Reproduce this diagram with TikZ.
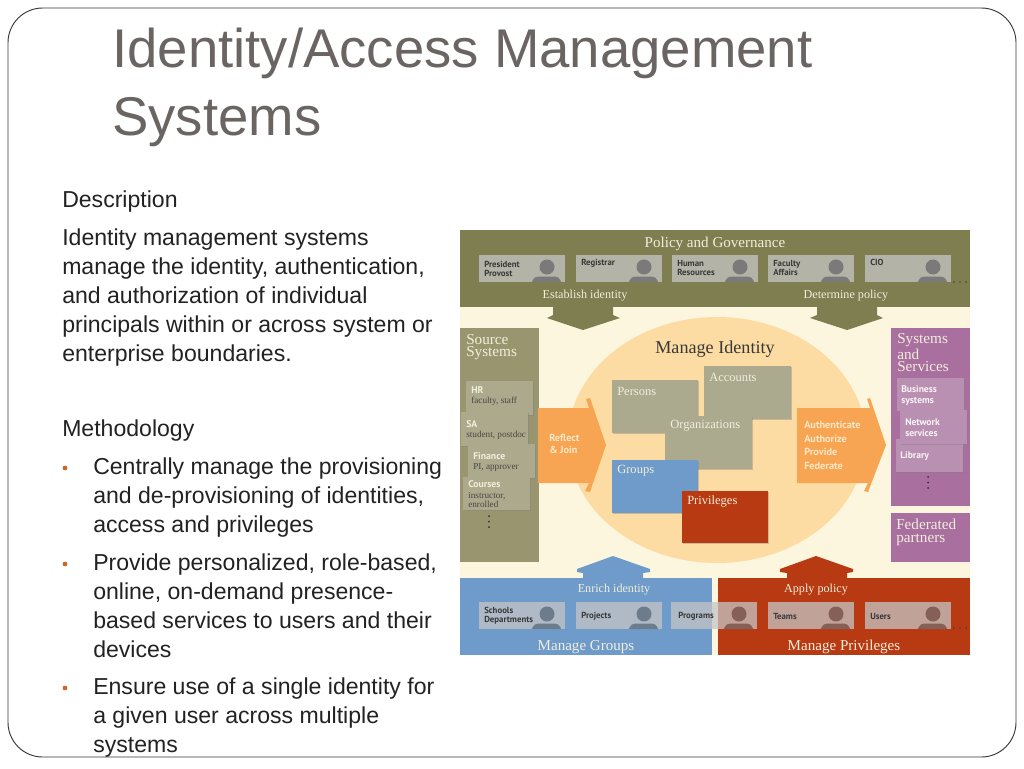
\documentclass[tikz,border=0pt]{standalone}
\usepackage{fontspec}
\setmainfont{Liberation Sans}
\newfontfamily\serifface{Liberation Serif}
\newfontfamily\labface{PT Sans}
\usetikzlibrary{shadows,shapes.geometric}
\definecolor{cream}{HTML}{FDF6DF}
\definecolor{olive}{HTML}{7F7E50}
\definecolor{srcgreen}{HTML}{99966F}
\definecolor{srccard}{HTML}{ADA98C}
\definecolor{ellip}{HTML}{FCDCA2}
\definecolor{orng}{HTML}{F7A552}
\definecolor{blu}{HTML}{6E9BC9}
\definecolor{rd}{HTML}{B73A13}
\definecolor{purp}{HTML}{A86F9F}
\definecolor{purpcard}{HTML}{BA90B2}
\definecolor{idgray}{HTML}{ABA98E}
\definecolor{titlegray}{HTML}{6A6462}
\definecolor{bodyink}{HTML}{222222}
\definecolor{bullet}{HTML}{C9682A}
\definecolor{paleink}{HTML}{F1EEDC}
\definecolor{roleg}{HTML}{C5C5C5}
\definecolor{bluehead}{HTML}{6D7C8C}
\definecolor{redhead}{HTML}{846056}
\definecolor{arrowink}{HTML}{FDE7C8}
\tikzset{
  region/.style={inner sep=0pt,outer sep=0pt,draw=none},
  softcard/.style={region,drop shadow={shadow xshift=1pt,shadow yshift=-1pt,opacity=.4}},
  rolecard/.style={region,fill=roleg,fill opacity=.75},
  titletext/.style={anchor=west,inner sep=0pt,text=titlegray,font=\fontsize{40.9}{50}\selectfont},
  bodytext/.style={anchor=north west,inner sep=0pt,align=left,text=bodyink,font=\fontsize{17.3}{21.75}\selectfont},
  headtext/.style={inner sep=0pt,text=paleink,font=\serifface\fontsize{11.3}{12}\selectfont},
  subtext/.style={inner sep=0pt,text=paleink,font=\serifface\fontsize{9.1}{11}\selectfont},
  sidetext/.style={anchor=west,inner sep=0pt,align=left,text=paleink,font=\serifface\fontsize{11.4}{9.6}\selectfont},
  idtext/.style={anchor=west,inner sep=0pt,text=paleink,font=\serifface\fontsize{9.4}{10}\selectfont},
  rolelabel/.style={anchor=west,inner sep=0pt,align=left,text=black!78,font=\labface\bfseries\fontsize{6.6}{6.7}\selectfont},
  purplabel/.style={anchor=west,inner sep=0pt,align=left,text=white!92!purp,font=\labface\bfseries\fontsize{7.2}{8.2}\selectfont},
  cardhead/.style={anchor=west,inner sep=0pt,text=paleink,font=\labface\bfseries\fontsize{7.3}{7.5}\selectfont},
  cardsub/.style={anchor=west,inner sep=0pt,align=left,text=black!72,font=\serifface\fontsize{6.9}{7}\selectfont},
  arrowlabel/.style={anchor=west,inner sep=0pt,align=left,text=arrowink,font=\labface\bfseries\fontsize{7.7}{10.1}\selectfont},
}
\newcommand{\rbox}[6]{\node[#2,minimum width={(#5-#3)*0.75pt},minimum height={(#6-#4)*0.75pt}] (#1) at ({(#3+#5)/2},{(#4+#6)/2}) {};}
\newcommand{\person}[4]{% name, card left, card bottom, colour
  \fill[#4] ({#2+68},{#3-15}) circle (7.5);
  \fill[#4] ({#2+53},#3) [rounded corners=3pt] -- ({#2+55},{#3-5.5}) -- ({#2+80},{#3-5.5}) [sharp corners] -- ({#2+82},#3) -- cycle;
  \coordinate (#1) at ({#2+68},#3);}
\newcommand{\dotcol}[3]{\fill[#3] (#1,#2) circle (1); \fill[#3] (#1,{#2+5.5}) circle (1); \fill[#3] (#1,{#2+11}) circle (1);}
\begin{document}
\begin{tikzpicture}[x=0.75pt,y=-0.75pt]
\useasboundingbox (0,0) rectangle (1024,768);
\fill[white] (0,0) rectangle (1024,768);
\draw[black!78,line width=.7pt,rounded corners=26pt] (8,8) rectangle (1016,757);

% slide text
\node[titletext] (title1) at (112,53) {Identity/Access Management};
\node[titletext] (title2) at (112,122) {Systems};
\node[bodytext] (desc) at (62,191) {Description};
\node[bodytext] (para) at (62,229) {Identity management systems\\manage the identity, authentication,\\and authorization of individual\\principals within or across system or\\enterprise boundaries.};
\node[bodytext] (meth) at (62,420) {Methodology};
\node[bodytext] (b1) at (93,458) {Centrally manage the provisioning\\and de-provisioning of identities,\\access and privileges};
\node[bodytext] (b2) at (93,554) {Provide personalized, role-based,\\online, on-demand presence-\\based services to users and their\\devices};
\node[bodytext] (b3) at (93,678) {Ensure use of a single identity for\\a given user across multiple\\systems};
\fill[bullet] (65,468) circle (2.4);
\fill[bullet] (65,564) circle (2.4);
\fill[bullet] (65,688) circle (2.4);

% diagram background
\rbox{bg}{region,fill=cream}{460}{230}{970}{655}
\node[region,fill=ellip,ellipse,minimum width={298*0.75pt},minimum height={246*0.75pt}] (core) at (717,440) {};

% top band
\rbox{policy}{region,fill=olive}{460}{230}{970}{307}
\fill[olive] (553,306) -- (553,315) -- (547,318) -- (583,330) -- (620,318) -- (613,315) -- (613,306) -- cycle;
\fill[olive] (817,306) -- (817,315) -- (810,318) -- (847,330) -- (883,318) -- (877,315) -- (877,306) -- cycle;
\node[headtext] (policyt) at (715,244) {Policy and Governance};
\node[subtext] (estab) at (585,296) {Establish identity};
\node[subtext] (determ) at (846,296) {Determine policy};
\rbox{c1}{rolecard}{479}{255}{565}{282}
\rbox{c2}{rolecard}{576}{255}{662}{282}
\rbox{c3}{rolecard}{672}{255}{758}{282}
\rbox{c4}{rolecard}{768}{255}{854}{282}
\rbox{c5}{rolecard}{865}{255}{951}{282}
\person{p1}{479}{282}{black!52}
\person{p2}{576}{282}{black!52}
\person{p3}{672}{282}{black!52}
\person{p4}{768}{282}{black!52}
\person{p5}{865}{282}{black!52}
\node[rolelabel] (l1) at (484,268.5) {President\\Provost};
\node[rolelabel] (l2) at (581,263) {Registrar};
\node[rolelabel] (l3) at (677,268) {Human\\Resources};
\node[rolelabel] (l4) at (773,268) {Faculty\\Affairs};
\node[rolelabel] (l5) at (870,262) {CIO};
\fill[black!75] (954,282) circle (.9) (960,282) circle (.9) (966,282) circle (.9);

% source systems
\rbox{src}{region,fill=srcgreen}{460}{328}{539}{562}
\node[sidetext] (srct) at (466,347) {Source\\Systems};
\rbox{hr}{softcard,fill=srccard}{466}{381}{533}{415}
\rbox{sa}{softcard,fill=srccard}{461}{412}{528}{446}
\rbox{fin}{softcard,fill=srccard}{468}{444}{535}{478}
\rbox{crs}{softcard,fill=srccard}{463}{477}{530}{510}
\node[cardhead] (hrh) at (471,390) {HR};
\node[cardsub] (hrs) at (471,401) {faculty, staff};
\node[cardhead] (sah) at (466,424) {SA};
\node[cardsub] (sas) at (466,435) {student, postdoc};
\node[cardhead] (finh) at (473,456) {Finance};
\node[cardsub] (fins) at (473,467) {PI, approver};
\node[cardhead] (crsh) at (468,484) {Courses};
\node[cardsub] (crss) at (468,500) {instructor,\\enrolled};
\dotcol{489}{516}{black!80}

% manage identity
\node[inner sep=0pt,text=black!78,font=\serifface\fontsize{13.6}{15}\selectfont] (mgr) at (715,349) {Manage Identity};
\rbox{persons}{softcard,fill=idgray}{612}{380}{698}{433}
\rbox{accounts}{softcard,fill=idgray}{704}{366}{791}{419}
\rbox{orgs}{softcard,fill=idgray}{665}{416}{752}{469}
\rbox{groups}{softcard,fill=blu}{612}{460}{698}{513}
\rbox{privs}{softcard,fill=rd}{682}{491}{768}{543}
\node[idtext] (personst) at (617,391) {Persons};
\node[idtext] (accountst) at (709,377) {Accounts};
\node[idtext] (orgst) at (670,426) {Organizations};
\node[idtext] (groupst) at (617,471) {Groups};
\node[idtext] (privst) at (687,501) {Privileges};

% orange arrows
\fill[orng] (538,408) -- (589,408) -- (586,399) -- (590,398) -- (606,445) -- (590,492) -- (585,491) -- (589,483) -- (538,483) -- cycle;
\fill[orng] (797,408) -- (870,408) -- (867,399) -- (870,398) -- (886,445) -- (868,492) -- (864,491) -- (868,483) -- (797,483) -- cycle;
\node[arrowlabel] (reflect) at (549,444) {Reflect\\[-1.7pt]\& Join};
\node[arrowlabel] (auth) at (804,445.5) {Authenticate\\Authorize\\Provide\\Federate};

% systems and services
\rbox{sys}{region,fill=purp}{891}{328}{970}{506}
\node[sidetext] (syst) at (897,353) {Systems\\and\\Services};
\rbox{biz}{softcard,fill=purpcard}{897}{378}{964}{411}
\rbox{lib}{softcard,fill=purpcard}{896}{439}{963}{472}
\rbox{net}{softcard,fill=purpcard}{900}{410}{967}{444}
\node[purplabel] (bizt) at (901,395.5) {Business\\systems};
\node[purplabel] (nett) at (905,427.5) {Network\\services};
\node[purplabel] (libt) at (900,456) {Library};
\dotcol{928}{477}{black!80}
\rbox{fed}{region,fill=purp}{891}{513}{970}{562}
\node[sidetext] (fedt) at (896,532) {Federated\\partners};

% bottom bands
\rbox{mgroups}{region,fill=blu}{460}{578}{712}{655}
\rbox{mprivs}{region,fill=rd}{718}{578}{970}{655}
\fill[blu] (583,579) -- (583,573) -- (577,572) -- (577,569) -- (613,556) -- (650,569) -- (650,572) -- (643,573) -- (643,579) -- cycle;
\fill[rd] (787,579) -- (787,573) -- (780,572) -- (780,569) -- (816,556) -- (853,569) -- (853,572) -- (847,573) -- (847,579) -- cycle;
\node[subtext] (enrich) at (614,590) {Enrich identity};
\node[subtext] (apply) at (816,590) {Apply policy};
\rbox{d1}{rolecard}{479}{602}{565}{629}
\rbox{d2}{rolecard}{576}{602}{662}{629}
\rbox{d3}{rolecard}{671}{602}{757}{629}
\rbox{d4}{rolecard}{768}{602}{854}{629}
\rbox{d5}{rolecard}{865}{602}{951}{629}
\person{q1}{479}{629}{bluehead}
\person{q2}{576}{629}{bluehead}
\person{q3}{671}{629}{redhead}
\person{q4}{768}{629}{redhead}
\person{q5}{865}{629}{redhead}
\node[rolelabel] (m1) at (484,616) {Schools\\Departments};
\node[rolelabel] (m2) at (581,616) {Projects};
\node[rolelabel] (m3) at (678,616) {Programs};
\node[rolelabel] (m4) at (773,616) {Teams};
\node[rolelabel] (m5) at (870,616) {Users};
\fill[black!75] (954,628) circle (.9) (960,628) circle (.9) (966,628) circle (.9);
\node[headtext] (mgt) at (586,647) {Manage Groups};
\node[headtext] (mpt) at (844,647) {Manage Privileges};
\end{tikzpicture}
\end{document}
